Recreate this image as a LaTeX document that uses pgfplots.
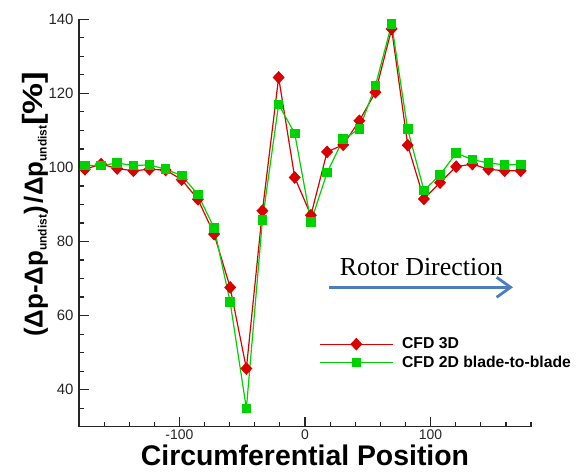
\documentclass[border=0pt]{standalone}
\usepackage{pgfplots}
\pgfplotsset{compat=1.18}
\usepackage{fontspec}
\setmainfont{Liberation Sans}
\newfontfamily\timesfont{Liberation Serif}
\usetikzlibrary{arrows.meta}
\definecolor{cfdred}{RGB}{218,0,0}
\definecolor{cfdgreen}{RGB}{0,210,0}
\definecolor{arrowblue}{RGB}{74,126,193}
\begin{document}
\begin{tikzpicture}[x=1bp,y=1bp]
\useasboundingbox (0,0) rectangle (579,472);
\begin{axis}[
  at={(79bp,45.3bp)}, anchor=south west,
  scale only axis, width=452bp, height=407.4bp,
  xmin=-180, xmax=180, ymin=30, ymax=140,
  axis x line*=bottom, axis y line*=left,
  axis line style={-, line width=1.4bp, black!85},
  xtick={-100,0,100}, xticklabels={-100,0,100},
  minor xtick={-160,-140,-120,-80,-60,-40,-20,20,40,60,80,120,140,160,180},
  ytick={40,60,80,100,120,140}, yticklabels={40,60,80,100,120,140},
  minor ytick={35,45,50,55,65,70,75,85,90,95,105,110,115,125,130,135},
  tick align=inside, major tick length=10bp, minor tick length=5bp,
  every tick/.style={line width=1.2bp, black!85},
  ticklabel style={font=\fontsize{15}{15}\selectfont, text=black!85},
  xticklabel style={inner sep=0bp, yshift=-3bp, font=\fontsize{14}{14}\selectfont},
  yticklabel style={xshift=-2bp},
  xlabel={Circumferential Position},
  xlabel style={at={(axis description cs:0.5,0)}, anchor=base, inner sep=0bp, yshift=-38.7bp, font=\fontsize{28.5}{28.5}\selectfont\bfseries},
  ylabel={{\bfseries\fontsize{26}{26}\selectfont (Δp-Δp\raisebox{-4bp}{\fontsize{12}{12}\selectfont undist})\kern3bp/Δp\raisebox{-4bp}{\fontsize{12}{12}\selectfont undist}\scalebox{1.25}[1]{\fontsize{28}{28}\selectfont[\%]}}},
  ylabel style={at={(axis description cs:-0.0803,0.2202)}, anchor=base west, inner sep=0bp},
  legend style={at={(axis cs:11.4,49.8)}, anchor=west, draw=none, fill=none, inner sep=0pt,
    font=\fontsize{15.8}{15.8}\selectfont\bfseries, row sep=1.5bp},
  legend cell align=left,
  legend image code/.code={\draw[mark repeat=2,mark phase=2,#1] plot coordinates {(0bp,0bp) (36.2bp,0bp) (72.4bp,0bp)};},
  clip=false,
]
\addplot[color=cfdred, line width=1.2bp, mark=diamond*, mark size=5.5bp, mark options={xscale=1.25, fill=cfdred, draw=cfdred}] coordinates {
(-175.3,99.5) (-162.4,100.9) (-149.6,99.7) (-136.7,99.1) (-123.9,99.5) (-111.0,99.3)
(-98.2,96.7) (-85.3,91.4) (-72.4,82.0) (-59.6,67.6) (-46.7,45.7) (-33.9,88.3)
(-21.0,124.3) (-8.2,97.3) (4.7,87.1) (17.6,104.2) (30.4,106.1) (43.3,112.6)
(56.1,120.3) (69.0,137.4) (81.8,106.0) (94.7,91.5) (107.6,95.9) (120.4,100.2)
(133.3,100.9) (146.1,99.5) (159.0,99.1) (171.8,99.1)
};
\addlegendentry{\hspace{7bp}CFD 3D}
\addplot[color=cfdgreen, line width=1.2bp, mark=square*, mark size=4.2bp, mark options={fill=cfdgreen, draw=cfdgreen}] coordinates {
(-175.3,100.5) (-162.4,100.5) (-149.6,101.2) (-136.7,100.5) (-123.9,100.7) (-111.0,99.5)
(-98.2,97.8) (-85.3,92.7) (-72.4,83.7) (-59.6,63.6) (-46.7,34.9) (-33.9,85.8)
(-21.0,117.0) (-8.2,109.2) (4.7,85.3) (17.6,98.6) (30.4,107.6) (43.3,110.4)
(56.1,122.1) (69.0,138.7) (81.8,110.3) (94.7,93.8) (107.6,98.0) (120.4,103.9)
(133.3,102.1) (146.1,101.2) (159.0,100.7) (171.8,100.8)
};
\addlegendentry{\hspace{7bp}CFD 2D blade-to-blade}
\end{axis}
\node[anchor=base, font=\timesfont\fontsize{26}{26}\selectfont, inner sep=0pt] at (421.5,196.3) {Rotor Direction};
\draw[arrowblue, line width=2.8bp, -{Straight Barb[length=14bp, width=20bp]}] (329,184.7) -- (513,184.7);
\end{tikzpicture}
\end{document}
